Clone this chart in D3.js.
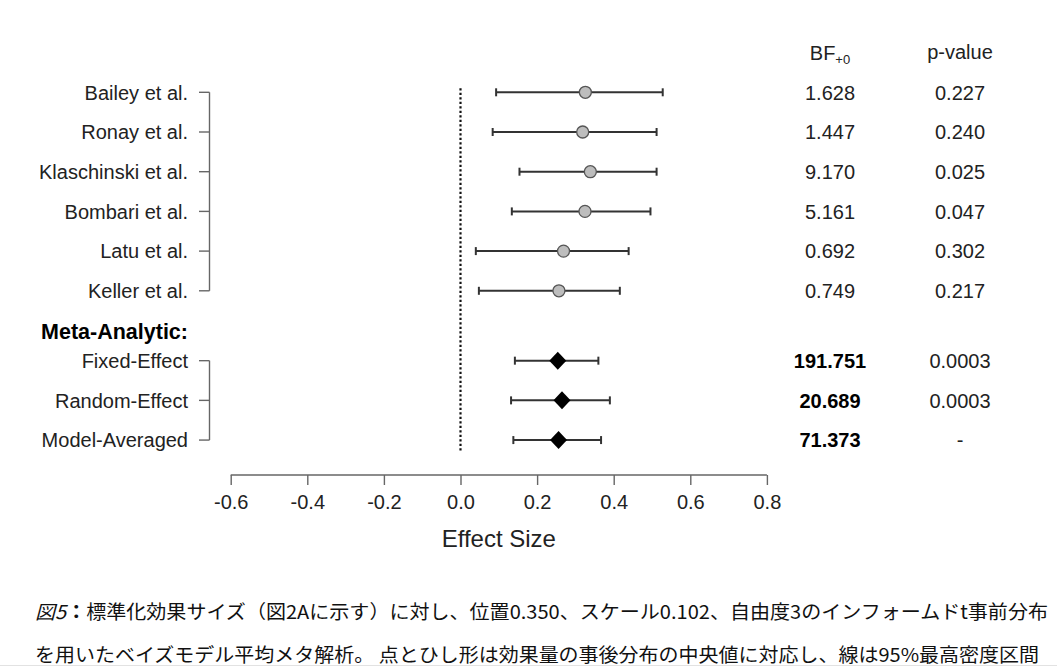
<!DOCTYPE html>
<html lang="ja">
<head>
<meta charset="UTF-8">
<title>Forest plot</title>
<script src="https://d3js.org/d3.v7.min.js"></script>
<style>
  body { margin: 0; background: #fff; }
  svg text { font-family: "Liberation Sans", Arial, Helvetica, sans-serif; fill: #222; }
  .bracket { stroke: #666; stroke-width: 1.4; fill: none; }
  .axis path, .axis line { stroke: #666; stroke-width: 1.4; }
  .axis text { font-size: 20px; fill: #222; font-family: "Liberation Sans", Arial, sans-serif; }
  .ci { stroke: #333; stroke-width: 2; }
  .caption { font-family: "Noto Sans CJK JP", sans-serif; font-size: 19px; fill: #111; }
</style>
</head>
<body>
<script>
// studies
var studies   = ["Bailey et al.", "Ronay et al.", "Klaschinski et al.", "Bombari et al.", "Latu et al.", "Keller et al."];
var studyMed  = [0.326, 0.319, 0.339, 0.325, 0.269, 0.257];
var studyLo   = [0.093, 0.084, 0.154, 0.134, 0.040, 0.048];
var studyHi   = [0.528, 0.512, 0.512, 0.496, 0.439, 0.416];
var studyBF   = ["1.628", "1.447", "9.170", "5.161", "0.692", "0.749"];
var studyP    = ["0.227", "0.240", "0.025", "0.047", "0.302", "0.217"];

// meta-analytic estimates
var metaModels = ["Fixed-Effect", "Random-Effect", "Model-Averaged"];
var metaMed    = [0.254, 0.265, 0.256];
var metaLo     = [0.142, 0.132, 0.138];
var metaHi     = [0.360, 0.390, 0.367];
var metaBF     = ["191.751", "20.689", "71.373"];
var metaP      = ["0.0003", "0.0003", "-"];

var xTicks = [-0.6, -0.4, -0.2, 0.0, 0.2, 0.4, 0.6, 0.8];

var width = 1057, height = 667;
var fs = "20px";

var svg = d3.select("body").append("svg")
    .attr("width", width)
    .attr("height", height);

var x = d3.scaleLinear().domain([-0.6, 0.8]).range([230.7, 766.9]);
var y = d3.scaleLinear().domain([0, 1]).range([92.3, 132]);

var rows = studies.map(function(s, i) {
  return {label: s, med: studyMed[i], lo: studyLo[i], hi: studyHi[i], bf: studyBF[i], p: studyP[i], row: i, meta: false};
});
var headerRow = studies.length + 0.02;
metaModels.forEach(function(m, j) {
  rows.push({label: m, med: metaMed[j], lo: metaLo[j], hi: metaHi[j], bf: metaBF[j], p: metaP[j], row: studies.length + 0.76 + j, meta: true});
});

// dotted zero line
svg.append("line")
    .attr("x1", x(0)).attr("x2", x(0))
    .attr("y1", y(0) - 4).attr("y2", y(rows[rows.length - 1].row) + 11)
    .attr("stroke", "#111").attr("stroke-width", 2.2)
    .attr("stroke-dasharray", "2.3,2.2");

// left brackets (one per group)
var bx = 209.5;
[rows.filter(d => !d.meta), rows.filter(d => d.meta)].forEach(function(g) {
  svg.append("line").attr("class", "bracket")
      .attr("x1", bx).attr("x2", bx)
      .attr("y1", y(g[0].row)).attr("y2", y(g[g.length - 1].row));
  svg.selectAll(null).data(g).enter().append("line").attr("class", "bracket")
      .attr("x1", bx - 10.5).attr("x2", bx)
      .attr("y1", d => y(d.row)).attr("y2", d => y(d.row));
});

// row labels
svg.selectAll(".rowlab").data(rows).enter().append("text")
    .attr("class", "rowlab")
    .attr("x", 188)
    .attr("y", d => y(d.row))
    .attr("dy", "0.36em")
    .attr("text-anchor", "end")
    .style("font-size", fs)
    .text(d => d.label);

svg.append("text")
    .attr("x", 188).attr("y", y(headerRow)).attr("dy", "0.36em")
    .attr("text-anchor", "end")
    .style("font-size", "21.5px").style("font-weight", "bold").style("fill", "#000")
    .text("Meta-Analytic:");

// credible intervals
var g = svg.selectAll(".est").data(rows).enter().append("g").attr("class", "est");
g.append("line").attr("class", "ci")
    .attr("x1", d => x(d.lo)).attr("x2", d => x(d.hi))
    .attr("y1", d => y(d.row)).attr("y2", d => y(d.row));
g.append("line").attr("class", "ci")
    .attr("x1", d => x(d.lo)).attr("x2", d => x(d.lo))
    .attr("y1", d => y(d.row) - 4).attr("y2", d => y(d.row) + 4);
g.append("line").attr("class", "ci")
    .attr("x1", d => x(d.hi)).attr("x2", d => x(d.hi))
    .attr("y1", d => y(d.row) - 4).attr("y2", d => y(d.row) + 4);

// points: circles for studies, diamonds for meta estimates
g.filter(d => !d.meta).append("circle")
    .attr("cx", d => x(d.med)).attr("cy", d => y(d.row))
    .attr("r", 6)
    .attr("fill", "#bdbdbd").attr("stroke", "#555").attr("stroke-width", 1.3);
g.filter(d => d.meta).append("path")
    .attr("transform", d => "translate(" + x(d.med) + "," + y(d.row) + ")")
    .attr("d", "M0,-9L8.5,0L0,9L-8.5,0Z")
    .attr("fill", "#000");

// BF and p-value columns
var bfX = 830, pX = 960;
var hdr = svg.append("text").attr("x", bfX).attr("y", 60)
    .attr("text-anchor", "middle").style("font-size", fs);
hdr.append("tspan").text("BF");
hdr.append("tspan").attr("dy", 4).style("font-size", "13px").text("+0");
svg.append("text").attr("x", pX).attr("y", 59)
    .attr("text-anchor", "middle").style("font-size", fs).text("p-value");

svg.selectAll(".bf").data(rows).enter().append("text")
    .attr("class", "bf")
    .attr("x", bfX).attr("y", d => y(d.row)).attr("dy", "0.36em")
    .attr("text-anchor", "middle")
    .style("font-size", fs)
    .style("font-weight", d => d.meta ? "bold" : "normal")
    .style("fill", d => d.meta ? "#000" : "#222")
    .text(d => d.bf);

svg.selectAll(".pv").data(rows).enter().append("text")
    .attr("class", "pv")
    .attr("x", pX).attr("y", d => y(d.row)).attr("dy", "0.36em")
    .attr("text-anchor", "middle")
    .style("font-size", fs)
    .text(d => d.p);

// x axis (plain hyphen for negatives, as in the original)
var fmt = d3.format(".1f");
var axis = svg.append("g").attr("class", "axis")
    .attr("transform", "translate(0,475)")
    .call(d3.axisBottom(x).tickValues(xTicks)
          .tickFormat(d => fmt(d).replace("\u2212", "-"))
          .tickSizeInner(10).tickSizeOuter(0).tickPadding(10));
axis.select(".domain").attr("d", "M" + x(-0.6) + ",0H" + x(0.8));

svg.append("text")
    .attr("x", x(0.1)).attr("y", 547)
    .attr("text-anchor", "middle")
    .style("font-size", "24px")
    .text("Effect Size");

// caption
var cap1 = svg.append("text").attr("class", "caption")
    .attr("x", 35).attr("y", 619)
    .attr("textLength", 1013).attr("lengthAdjust", "spacingAndGlyphs");
cap1.append("tspan").style("font-style", "italic").text("図5");
cap1.append("tspan").style("font-weight", "bold").text("：");
cap1.append("tspan").text("標準化効果サイズ（図2Aに示す）に対し、位置0.350、スケール0.102、自由度3のインフォームドt事前分布");

svg.append("text").attr("class", "caption")
    .attr("x", 35).attr("y", 662)
    .attr("textLength", 1004).attr("lengthAdjust", "spacingAndGlyphs")
    .text("を用いたベイズモデル平均メタ解析。 点とひし形は効果量の事後分布の中央値に対応し、線は95%最高密度区間");

svg.append("line")
    .attr("x1", 0).attr("x2", width).attr("y1", 665.5).attr("y2", 665.5)
    .attr("stroke", "#e2e2e2").attr("stroke-width", 1);
</script>
</body>
</html>
